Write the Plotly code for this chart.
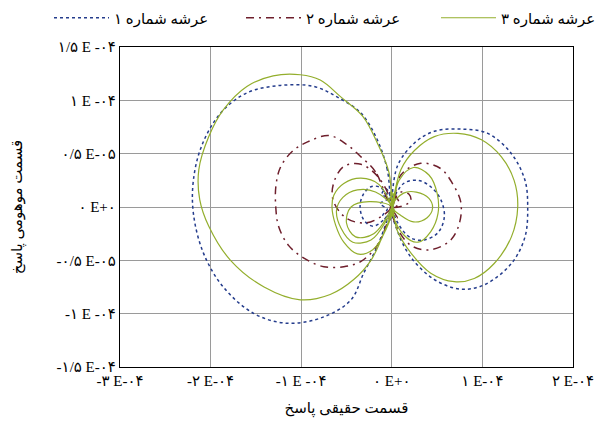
import plotly.graph_objects as go

# Series 1 (عرشه شماره ۱) - blue dotted
s1_x = [0, -0.05, -0.16, -0.34, -0.60, -0.86, -1.23, -1.60, -1.89, -2.10, -2.19, -2.19, -2.08, -1.86, -1.52, -1.15, -0.75, -0.45, -0.31, -0.16, -0.05, 0,
        -0.12, -0.23, -0.32, -0.35, -0.31, -0.21, -0.09, 0,
        -0.06, -0.11, -0.04, -0.13, -0.05, -0.10, -0.03, 0.02, 0,
        0.06, 0.25, 0.47, 0.76, 1.06, 1.32, 1.47, 1.50, 1.47, 1.32, 1.02, 0.76, 0.47, 0.21, 0.06, 0,
        0.13, 0.29, 0.43, 0.54, 0.58, 0.51, 0.35, 0.21, 0.08, 0]
s1_y = [0, 0.35, 0.63, 0.88, 1.03, 1.13, 1.14, 1.07, 0.88, 0.57, 0.25, -0.06, -0.43, -0.75, -1.00, -1.09, -1.03, -0.87, -0.62, -0.37, -0.12, 0,
        0.18, 0.19, 0.11, 0.0, -0.12, -0.18, -0.12, 0,
        0.17, 0.12, 0.08, 0.03, -0.02, -0.08, -0.13, 0.06, 0,
        0.38, 0.60, 0.71, 0.73, 0.69, 0.50, 0.25, 0.00, -0.28, -0.53, -0.73, -0.77, -0.68, -0.47, -0.22, 0,
        0.22, 0.25, 0.19, 0.07, -0.09, -0.24, -0.31, -0.29, -0.17, 0]

# Series 2 (عرشه شماره ۲) - dark red dash-dot
s2_x = [0, -0.18, -0.34, -0.49, -0.69, -0.93, -1.10, -1.23, -1.28, -1.28, -1.25, -1.14, -0.97, -0.75, -0.53, -0.34, -0.16, -0.06, 0,
        -0.14, -0.34, -0.53, -0.64, -0.65, -0.51, -0.29, -0.10, 0,
        0.10, 0.32, 0.54, 0.67, 0.76, 0.75, 0.65, 0.43, 0.23, 0.08, 0,
        0.10, 0.19, 0.21, 0.15, 0,
        0.03, 0.08, 0.02, 0.06, -0.02, 0.04, 0]
s2_y = [0, 0.33, 0.47, 0.58, 0.67, 0.61, 0.52, 0.37, 0.19, -0.01, -0.18, -0.36, -0.48, -0.56, -0.56, -0.51, -0.36, -0.17, 0,
        0.27, 0.40, 0.38, 0.23, 0.07, -0.10, -0.15, -0.08, 0,
        0.30, 0.41, 0.36, 0.22, 0.05, -0.14, -0.31, -0.40, -0.37, -0.23, 0,
        0.14, 0.12, 0.06, 0.02, 0,
        0.10, 0.04, -0.03, -0.10, -0.06, 0.13, 0]

# Series 3 (عرشه شماره ۳) - green solid
s3_x = [0, -0.03, -0.16, -0.32, -0.56, -0.79, -1.01, -1.31, -1.60, -1.86, -2.02, -2.13, -2.12, -2.02, -1.78, -1.41, -1.01, -0.68, -0.42, -0.23, -0.12, -0.03, 0,
        0.10, 0.25, 0.47, 0.73, 0.99, 1.21, 1.35, 1.39, 1.32, 1.13, 0.91, 0.69, 0.43, 0.21, 0.06, 0,
        -0.14, -0.34, -0.53, -0.64, -0.66, -0.62, -0.53, -0.38, -0.21, -0.07, 0,
        -0.18, -0.38, -0.54, -0.61, -0.56, -0.43, -0.23, -0.07, 0,
        -0.25, -0.45, -0.50, -0.40, -0.20, 0,
        0.08, 0.24, 0.41, 0.50, 0.51, 0.43, 0.29, 0.13, 0,
        0.13, 0.27, 0.41, 0.45, 0.39, 0.24, 0.10, 0,
        0.02, -0.03, 0.03, -0.02, 0.03, -0.01, 0]
s3_y = [0, 0.32, 0.60, 0.85, 1.03, 1.19, 1.24, 1.23, 1.13, 0.91, 0.66, 0.35, 0.07, -0.18, -0.50, -0.75, -0.87, -0.82, -0.68, -0.50, -0.31, -0.12, 0,
        0.35, 0.53, 0.66, 0.69, 0.63, 0.47, 0.25, 0.00, -0.28, -0.53, -0.67, -0.70, -0.62, -0.43, -0.22, 0,
        0.21, 0.27, 0.22, 0.11, 0.0, -0.17, -0.33, -0.44, -0.40, -0.22, 0,
        0.14, 0.16, 0.09, -0.03, -0.20, -0.33, -0.31, -0.14, 0,
        0.05, 0.0, -0.15, -0.28, -0.25, 0,
        0.25, 0.37, 0.30, 0.13, -0.06, -0.23, -0.33, -0.26, 0,
        0.13, 0.14, 0.08, -0.01, -0.10, -0.14, -0.08, 0,
        0.12, 0.06, -0.04, -0.10, 0.08, 0.15, 0]

x_tickvals = [-3, -2, -1, 0, 1, 2]
x_ticktext = ["-۳ E-۰۴", "-۲ E-۰۴", "-۱ E -۰۴", "۰ E+۰", "۱ E-۰۴", "۲ E-۰۴"]
y_tickvals = [-1.5, -1, -0.5, 0, 0.5, 1, 1.5]
y_ticktext = ["-۱/۵ E-۰۴", "-۱ E -۰۴", "-۰/۵ E-۰۵", "۰ E+۰", "۰/۵ E-۰۵", "۱ E -۰۴", "۱/۵ E -۰۴"]

names = ["عرشه شماره ۱", "عرشه شماره ۲", "عرشه شماره ۳"]

FONT = "Liberation Serif, DejaVu Sans, serif"

fig = go.Figure()
fig.add_trace(go.Scatter(x=s1_x, y=s1_y, mode="lines", name=names[0], legend="legend",
                         line=dict(color="#243c8c", width=1.5, dash="dot", shape="spline", smoothing=1.0)))
fig.add_trace(go.Scatter(x=s2_x, y=s2_y, mode="lines", name=names[1], legend="legend2",
                         line=dict(color="#6e1f2c", width=1.5, dash="8px,5px,2px,5px", shape="spline", smoothing=1.0)))
fig.add_trace(go.Scatter(x=s3_x, y=s3_y, mode="lines", name=names[2], legend="legend3",
                         line=dict(color="#93ae2c", width=1.2, shape="spline", smoothing=1.0)))

axis_common = dict(showgrid=True, gridcolor="#9a9a9a", gridwidth=1, zeroline=False,
                   showline=True, linecolor="black", linewidth=1.2, mirror=True,
                   ticks="", tickfont=dict(family=FONT, size=15, color="black"))


def leg(xpx):
    return dict(orientation="h", xref="container", yref="container",
                x=xpx / 599, y=1 - 18 / 439, xanchor="left", yanchor="middle",
                itemwidth=55,
                font=dict(family=FONT, size=15, color="black"),
                bgcolor="rgba(0,0,0,0)")


fig.update_layout(
    width=599, height=439,
    margin=dict(l=120, r=26, t=47, b=72, autoexpand=False),
    paper_bgcolor="white", plot_bgcolor="white",
    font=dict(family=FONT, size=14, color="black"),
    showlegend=True,
    legend=leg(49), legend2=leg(241), legend3=leg(436),
    xaxis=dict(range=[-3, 2], tickvals=x_tickvals, ticktext=x_ticktext,
               title=dict(text="قسمت حقیقی پاسخ", font=dict(family=FONT, size=15), standoff=14),
               **axis_common),
    yaxis=dict(range=[-1.5, 1.5], tickvals=y_tickvals, ticktext=y_ticktext,
               title=dict(text="قسمت موهومی پاسخ", font=dict(family=FONT, size=15), standoff=30),
               **axis_common),
)

fig.write_html("out.html")
